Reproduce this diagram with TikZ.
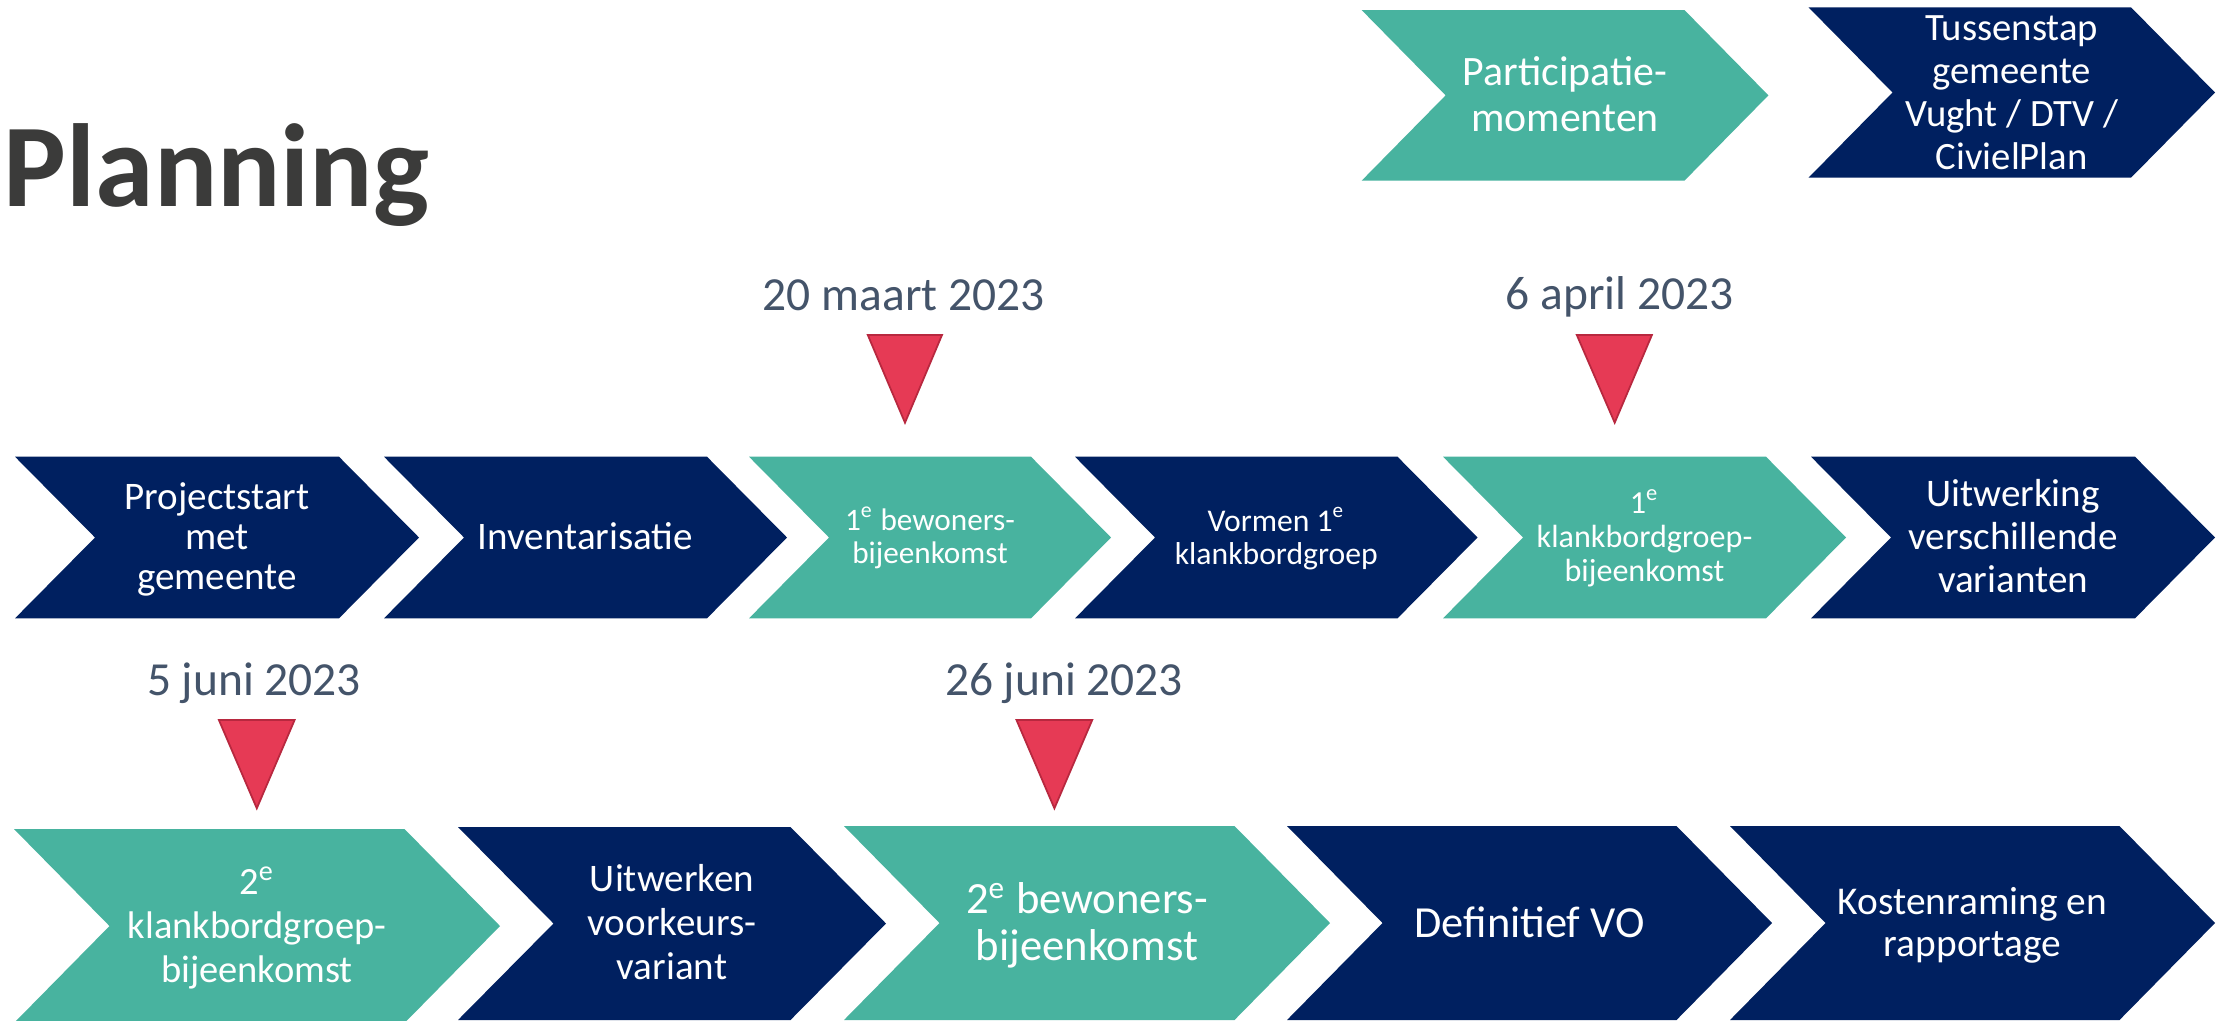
\documentclass[tikz,border=0pt]{standalone}
\usepackage{fontspec}
\setmainfont{Carlito}
\definecolor{navy}{HTML}{002060}
\definecolor{tealc}{HTML}{48B39F}
\definecolor{redc}{HTML}{E63A55}
\definecolor{redd}{HTML}{B8283F}
\definecolor{datec}{HTML}{44546A}
\definecolor{titlec}{HTML}{3B3B3A}
% font size (pt) and line distance (pt)
\newcommand\fs[2]{\fontsize{#1}{#2}\selectfont}
% line strut: every line gets the same box, centred on the cap height
\newcommand\ls{\rule[\dimexpr0.316em-0.5\baselineskip\relax]{0pt}{\baselineskip}}
% chevron: #1 style, #2 left x, #3 top y, #4 tip x, #5 bottom y, #6 point depth, #7 font, #8 name, #9 text
\newcommand\chev[9]{%
  \fill[#1] (#2,#3) -- ({#4-#6},#3) -- (#4,{(#3+#5)/2}) -- ({#4-#6},#5) -- (#2,#5) -- ({#2+#6},{(#3+#5)/2}) -- cycle;
  \node[lbl, font=#7] (#8) at ({(#2+#4)/2},{(#3+#5)/2}) {#9};}
\tikzset{
  lbl/.style={text=white, align=center, inner sep=0pt},
  navybox/.style={fill=navy},
  tealbox/.style={fill=tealc},
  datelbl/.style={text=datec, anchor=base, inner sep=0pt, font=\fs{13.5}{16}},
  marker/.style={fill=redc, draw=redd, line width=0.5pt, line join=miter},
}
\begin{document}
\begin{tikzpicture}[x=0.01cm, y=-0.01cm]
\useasboundingbox (0,0) rectangle (2221,1020);
\fill[white] (0,0) rectangle (2221,1020);

% title
\node[anchor=base west, inner sep=0pt, text=titlec, font=\fs{33.6}{40}\bfseries] (title) at (3,206.7) {Planning};

% legend (top right)
\chev{tealbox}{1361.6}{10}{1768.4}{180.7}{84}{\fs{11.9}{12.97}}{legP}{\ls Participatie-\\\ls momenten}
\chev{navybox}{1808.5}{7.3}{2215}{177.7}{84}{\fs{11.0}{12.23}}{legT}{\ls Tussenstap\\\ls gemeente\\\ls Vught / DTV /\\\ls CivielPlan}

% row 1
\chev{navybox}{15}{456.7}{419}{618.3}{80}{\fs{11.1}{11.4}}{a1}{\ls Projectstart\\\ls met\\\ls gemeente}
\chev{navybox}{384}{456.7}{787}{618.3}{80}{\fs{11.1}{12}}{a2}{\ls Inventarisatie}
\chev{tealbox}{749}{456.7}{1111}{618.3}{80}{\fs{8.88}{9.39}}{a3}{\ls 1\textsuperscript{e} bewoners-\\\ls bijeenkomst}
\chev{navybox}{1075}{456.7}{1477.5}{618.3}{80}{\fs{9.0}{9.39}}{a4}{\ls Vormen 1\textsuperscript{e}\\\ls klankbordgroep}
\chev{tealbox}{1443}{456.7}{1846}{618.3}{80}{\fs{9.13}{9.67}}{a5}{\ls 1\textsuperscript{e}\\\ls klankbordgroep-\\\ls bijeenkomst}
\chev{navybox}{1811}{456.7}{2215}{618.3}{80}{\fs{11.12}{12.23}}{a6}{\ls Uitwerking\\\ls verschillende\\\ls varianten}

% row 2
\chev{tealbox}{14}{829}{500}{1023}{95.5}{\fs{10.95}{12.52}}{b1}{\ls 2\textsuperscript{e}\\\ls klankbordgroep-\\\ls bijeenkomst}
\chev{navybox}{458}{827}{886}{1020}{95.5}{\fs{11.1}{12.52}}{b2}{\ls Uitwerken\\\ls voorkeurs-\\\ls variant}
\chev{tealbox}{844}{826}{1330}{1020}{95.5}{\fs{12.69}{13.37}}{b3}{\ls 2\textsuperscript{e} bewoners-\\\ls bijeenkomst}
\chev{navybox}{1287}{826}{1772}{1020}{95.5}{\fs{12.63}{13.5}}{b4}{\ls Definitief VO}
\chev{navybox}{1730}{826}{2215}{1020}{95.5}{\fs{11.2}{11.95}}{b5}{\ls Kostenraming en\\\ls rapportage}

% date markers
\filldraw[marker] (867.8,335) -- (942,335) -- (905,422.7) -- cycle;
\filldraw[marker] (1576.8,335) -- (1651.9,335) -- (1614.7,422.7) -- cycle;
\filldraw[marker] (218.9,720) -- (294.6,720) -- (256.8,808.3) -- cycle;
\filldraw[marker] (1016.5,720) -- (1092.2,720) -- (1054.4,808.3) -- cycle;

% dates
\node[datelbl] (d1) at (903.6,310) {20 maart 2023};
\node[datelbl] (d2) at (1619.7,309) {6 april 2023};
\node[datelbl] (d3) at (254,695) {5 juni 2023};
\node[datelbl] (d4) at (1064,695) {26 juni 2023};
\end{tikzpicture}
\end{document}
